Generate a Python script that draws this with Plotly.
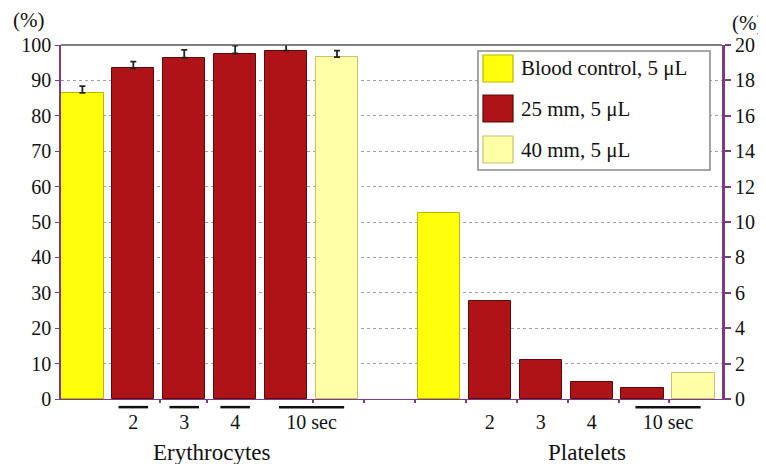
import plotly.graph_objects as go

# ---------------- data ----------------
series_names = ["Blood control, 5 μL", "25 mm, 5 μL", "40 mm, 5 μL"]
series_colors = ["#FFFF0A", "#AD1317", "#FFFFA8"]
series_edges = ["#B8B800", "#5A0A0A", "#C8C070"]

# slot positions on the category axis (slot 6 is an empty gap)
ery_slots = {"control": [0], "25mm": [1, 2, 3, 4], "40mm": [5]}
plt_slots = {"control": [7], "25mm": [8, 9, 10, 11], "40mm": [12]}

ery_control = [86.5]
ery_25mm = [93.4, 96.4, 97.6, 98.4]
ery_40mm = [96.6]
ery_control_err = [1.9]
ery_25mm_err = [1.9, 2.2, 2.2, 1.9]
ery_40mm_err = [1.8]

plt_control = [10.5]
plt_25mm = [5.55, 2.2, 0.95, 0.65]
plt_40mm = [1.45]

time_tick_pos = [1, 2, 3, 4.5, 8, 9, 10, 11.5]
time_tick_text = ["2", "3", "4", "10 sec", "2", "3", "4", "10 sec"]
group_labels = ["Erythrocytes", "Platelets"]
group_label_pos = [2.54, 9.9]

# ---------------- figure ----------------
FONT = "Liberation Serif, Times New Roman, Times, serif"
PURPLE = "#7D3C80"
W = 0.83

fig = go.Figure()

ery_vals = [ery_control, ery_25mm, ery_40mm]
ery_errs = [ery_control_err, ery_25mm_err, ery_40mm_err]
plt_vals = [plt_control, plt_25mm, plt_40mm]
keys = ["control", "25mm", "40mm"]

for i, k in enumerate(keys):
    fig.add_trace(go.Bar(
        x=ery_slots[k], y=ery_vals[i], width=W, name=series_names[i],
        marker=dict(color=series_colors[i], line=dict(color=series_edges[i], width=1)),
        error_y=dict(type="data", array=ery_errs[i], arrayminus=[0] * len(ery_errs[i]),
                     symmetric=False, color="#222", thickness=1.8, width=3),
        showlegend=False, yaxis="y"))
for i, k in enumerate(keys):
    fig.add_trace(go.Bar(
        x=plt_slots[k], y=plt_vals[i], width=W, name=series_names[i],
        marker=dict(color=series_colors[i], line=dict(color=series_edges[i], width=1)),
        showlegend=False, yaxis="y2"))

shapes = []
annotations = []

# top border
shapes.append(dict(type="line", xref="paper", yref="paper", x0=0, x1=1, y0=1, y1=1,
                   line=dict(color="#555", width=1.5)))

# underline bars for the time labels
for p, t in zip(time_tick_pos, time_tick_text):
    hw = 0.64 if t == "10 sec" else 0.29
    # platelets only underline the 10 sec label
    if p > 6 and t != "10 sec":
        continue
    shapes.append(dict(type="line", xref="x", yref="paper", x0=p - hw, x1=p + hw,
                       y0=-0.023, y1=-0.023, line=dict(color="#111", width=2.5)))

for lab, pos in zip(group_labels, group_label_pos):
    annotations.append(dict(text=lab, x=pos, xref="x", y=-0.15, yref="paper",
                            showarrow=False, yanchor="middle", xanchor="center",
                            font=dict(family=FONT, size=23, color="#111")))

# unit labels
annotations.append(dict(text="(%)", x=-0.049, xref="paper", y=1.07, yref="paper",
                        showarrow=False, xanchor="center", yanchor="middle",
                        font=dict(family=FONT, size=21, color="#111")))
annotations.append(dict(text="(%)", x=1.0386, xref="paper", y=1.063, yref="paper",
                        showarrow=False, xanchor="center", yanchor="middle",
                        font=dict(family=FONT, size=21, color="#111")))

# custom legend (large swatches), positioned in plot-area pixel terms
px0, px1, py0, py1 = 61, 722, 45, 399
def xp(px):
    return (px - px0) / (px1 - px0)
def yp(py):
    return (py1 - py) / (py1 - py0)

shapes.append(dict(type="rect", xref="paper", yref="paper",
                   x0=xp(478), x1=xp(710), y0=yp(170), y1=yp(51),
                   line=dict(color="#888", width=1.5), fillcolor="white", layer="above"))
row_centers = [68.5, 108.5, 149.5]
for i, name in enumerate(series_names):
    cy = row_centers[i]
    shapes.append(dict(type="rect", xref="paper", yref="paper",
                       x0=xp(483), x1=xp(513), y0=yp(cy + 13.5), y1=yp(cy - 13.5),
                       line=dict(color=series_edges[i], width=1.2),
                       fillcolor=series_colors[i], layer="above"))
    annotations.append(dict(text=name, x=xp(519), xref="paper", y=yp(cy), yref="paper",
                            showarrow=False, xanchor="left", yanchor="middle",
                            font=dict(family=FONT, size=21, color="#111")))

# page body adds an 8px offset; compensate so the plot lands where the reference has it
fig.update_layout(
    width=758, height=456,
    margin=dict(l=53, r=44, t=37, b=65),
    paper_bgcolor="white", plot_bgcolor="white",
    barmode="overlay",
    bargap=0,
    font=dict(family=FONT, size=20, color="#111"),
    xaxis=dict(range=[-0.42, 12.56], tickmode="array", tickvals=time_tick_pos,
               ticktext=time_tick_text, ticks="", showgrid=False, zeroline=False,
               showline=True, linecolor=PURPLE, linewidth=1,
               tickfont=dict(family=FONT, size=20, color="#111"),
               ticklabelstandoff=5, automargin=False,
               minor=dict(tickvals=[1.53, 2.45, 4.53, 5.53, 6.53, 7.53, 8.53, 9.54, 10.54, 11.52],
                          ticks="outside", ticklen=3, tickcolor=PURPLE, tickwidth=2)),
    yaxis=dict(range=[0, 100], tickmode="linear", tick0=0, dtick=10,
               showline=True, linecolor=PURPLE, linewidth=1.5,
               ticks="outside", ticklen=4, tickcolor=PURPLE, automargin=False,
               showgrid=True, gridcolor="#A0A0A0", griddash="dot", gridwidth=1,
               zeroline=False, tickfont=dict(family=FONT, size=20, color="#111")),
    yaxis2=dict(range=[0, 20], tickmode="linear", tick0=0, dtick=2,
                overlaying="y", side="right", automargin=False,
                showline=True, linecolor=PURPLE, linewidth=3,
                ticks="outside", ticklen=6, tickcolor=PURPLE, tickwidth=1.5,
                showgrid=False, zeroline=False,
                tickfont=dict(family=FONT, size=20, color="#111")),
    shapes=shapes,
    annotations=annotations,
    showlegend=False,
)

fig.write_html("out.html")
